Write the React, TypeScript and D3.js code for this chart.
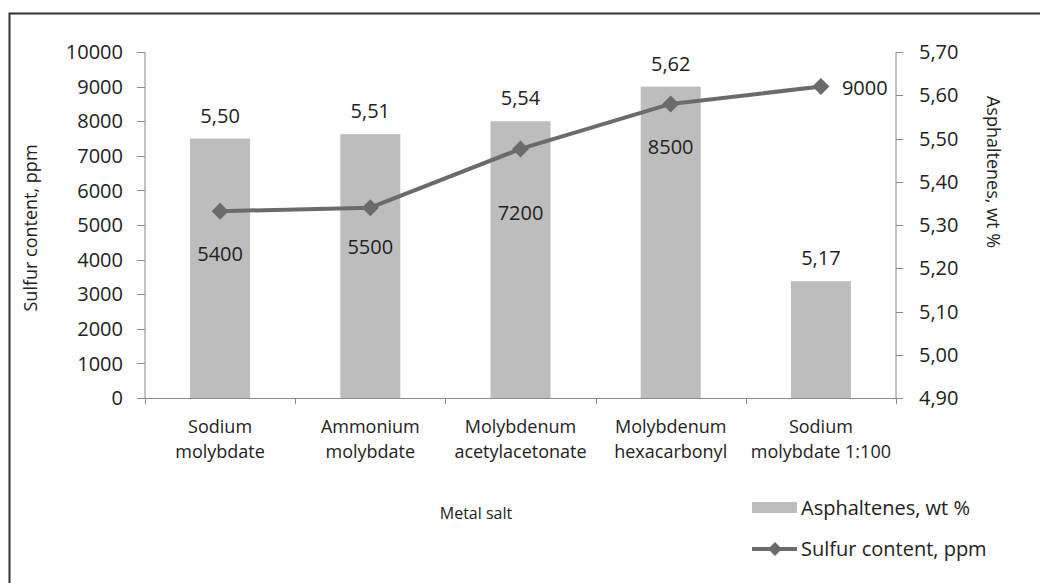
import React from "react";
import * as d3 from "d3";

// Categories (metal salts) and the two measured series
const categories: string[][] = [
  ["Sodium", "molybdate"],
  ["Ammonium", "molybdate"],
  ["Molybdenum", "acetylacetonate"],
  ["Molybdenum", "hexacarbonyl"],
  ["Sodium", "molybdate 1:100"],
];
const asphaltenes: number[] = [5.5, 5.51, 5.54, 5.62, 5.17];
const sulfur: number[] = [5400, 5500, 7200, 8500, 9000];

const sulfurTicks: number[] = [0, 1000, 2000, 3000, 4000, 5000, 6000, 7000, 8000, 9000, 10000];
const asphTicks: number[] = [4.9, 5.0, 5.1, 5.2, 5.3, 5.4, 5.5, 5.6, 5.7];

// Label placement relative to each sulfur point (layout only)
const sulfurLabelDx = [0, 0, 0, 0, 21];
const sulfurLabelDy = [43, 39, 64, 43, 1];

const W = 1040;
const H = 583;
const plot = { left: 145, right: 896, top: 52, bottom: 398 };

const FONT = "'Open Sans', 'Noto Sans', sans-serif";
const TEXT = "#222";
const AXIS = "#8a8a8a";
const BAR = "#bdbdbd";
const LINE = "#6b6b6b";

const comma = (v: number) => d3.format(".2f")(v).replace(".", ",");

export default function App() {
  const idx = categories.map((_, i) => String(i));
  const x = d3.scaleBand<string>().domain(idx).range([plot.left, plot.right]).padding(0);
  const yL = d3.scaleLinear().domain([0, 10000]).range([plot.bottom, plot.top]);
  const yR = d3.scaleLinear().domain([4.9, 5.7]).range([plot.bottom, plot.top]);
  const barW = 60;
  const cx = (i: number) => (x(String(i)) as number) + x.bandwidth() / 2;

  const line = d3
    .line<number>()
    .x((_, i) => cx(i))
    .y((d) => yL(d));

  const diamond = (px: number, py: number, r: number) =>
    `M${px},${py - r}L${px + r},${py}L${px},${py + r}L${px - r},${py}Z`;

  const bounds = [...idx.map((k) => x(k) as number), plot.right];

  return (
    <svg
      width={W}
      height={H}
      style={{ position: "absolute", left: 0, top: 0, background: "#fff" }}
      fontFamily={FONT}
    >
      <rect x={0} y={0} width={W} height={H} fill="#fff" />
      {/* outer frame */}
      <rect x={9.5} y={13.5} width={1040} height={600} fill="none" stroke="#333" strokeWidth={2} />

      {/* bars: asphaltenes on the right axis */}
      {asphaltenes.map((v, i) => (
        <rect
          key={"b" + i}
          x={cx(i) - barW / 2}
          y={yR(v)}
          width={barW}
          height={plot.bottom - yR(v)}
          fill={BAR}
        />
      ))}

      {/* axes */}
      <line x1={plot.left} x2={plot.left} y1={plot.top} y2={plot.bottom} stroke={AXIS} strokeWidth={1} />
      <line x1={plot.right} x2={plot.right} y1={plot.top} y2={plot.bottom} stroke={AXIS} strokeWidth={1} />
      <line x1={plot.left} x2={plot.right} y1={plot.bottom + 0.5} y2={plot.bottom + 0.5} stroke={AXIS} strokeWidth={1} />

      {sulfurTicks.map((t) => (
        <g key={"l" + t}>
          <line x1={plot.left - 8} x2={plot.left} y1={Math.round(yL(t)) + 0.5} y2={Math.round(yL(t)) + 0.5} stroke={AXIS} />
          <text x={123} y={yL(t)} dy="0.36em" textAnchor="end" fontSize={20} fill={TEXT}>
            {t}
          </text>
        </g>
      ))}
      {asphTicks.map((t) => (
        <g key={"r" + t}>
          <line x1={plot.right} x2={plot.right + 7} y1={Math.round(yR(t)) + 0.5} y2={Math.round(yR(t)) + 0.5} stroke={AXIS} />
          <text x={919} y={yR(t)} dy="0.36em" textAnchor="start" fontSize={20} fill={TEXT}>
            {comma(t)}
          </text>
        </g>
      ))}
      {bounds.map((bx, i) => (
        <line key={"xt" + i} x1={Math.round(bx) + 0.5} x2={Math.round(bx) + 0.5} y1={plot.bottom} y2={plot.bottom + 6} stroke={AXIS} />
      ))}

      {/* category labels */}
      {categories.map((lines, i) => (
        <text key={"c" + i} x={cx(i)} textAnchor="middle" fontSize={18} fill={TEXT}>
          {lines.map((s, j) => (
            <tspan key={j} x={cx(i)} y={433 + j * 25}>
              {s}
            </tspan>
          ))}
        </text>
      ))}

      {/* bar value labels */}
      {asphaltenes.map((v, i) => (
        <text key={"bl" + i} x={cx(i)} y={yR(v) - 23} dy="0.36em" textAnchor="middle" fontSize={20} fill={TEXT}>
          {comma(v)}
        </text>
      ))}

      {/* sulfur line */}
      <path d={line(sulfur) as string} fill="none" stroke={LINE} strokeWidth={4} strokeLinejoin="round" />
      {sulfur.map((v, i) => (
        <path key={"m" + i} d={diamond(cx(i), yL(v), 8.5)} fill={LINE} />
      ))}
      {sulfur.map((v, i) => (
        <text
          key={"sl" + i}
          x={cx(i) + sulfurLabelDx[i]}
          y={yL(v) + sulfurLabelDy[i]}
          dy="0.36em"
          textAnchor={sulfurLabelDx[i] ? "start" : "middle"}
          fontSize={20}
          fill={TEXT}
        >
          {v}
        </text>
      ))}

      {/* axis titles */}
      <text transform="translate(31,228) rotate(-90)" textAnchor="middle" dy="0.36em" fontSize={18} fill={TEXT}>
        Sulfur content, ppm
      </text>
      <text transform="translate(993,172) rotate(90)" textAnchor="middle" dy="0.36em" fontSize={18} fill={TEXT}>
        Asphaltenes, wt %
      </text>
      <text x={476} y={519} textAnchor="middle" fontSize={16} fill={TEXT}>
        Metal salt
      </text>

      {/* legend */}
      <rect x={752} y={502} width={45} height={11} fill={BAR} />
      <text x={801} y={508} dy="0.36em" fontSize={20} fill={TEXT}>
        Asphaltenes, wt %
      </text>
      <line x1={752} x2={797} y1={549} y2={549} stroke={LINE} strokeWidth={4} />
      <path d={diamond(775, 549, 7)} fill={LINE} />
      <text x={801} y={549} dy="0.36em" fontSize={20} fill={TEXT}>
        Sulfur content, ppm
      </text>
    </svg>
  );
}
